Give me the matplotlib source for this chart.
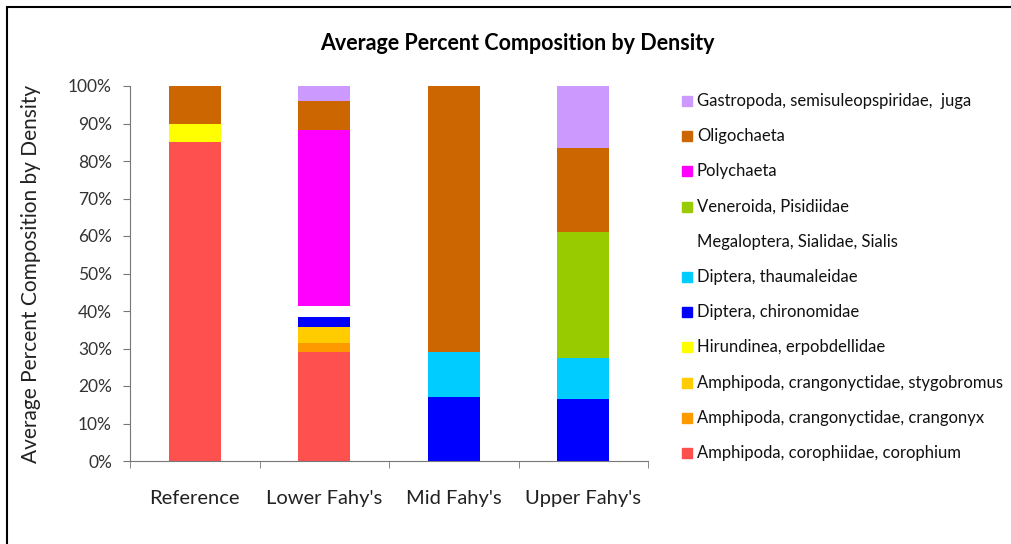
import numpy as np
import matplotlib
matplotlib.use("Agg")
from matplotlib import pyplot as plt
from matplotlib.patches import Rectangle

plt.rcParams['font.family'] = ['Lato', 'DejaVu Sans']

sites = ["Reference", "Lower Fahy's", "Mid Fahy's", "Upper Fahy's"]

# stacked from bottom to top, percent of density
taxa = [
    "Amphipoda, corophiidae, corophium",
    "Amphipoda, crangonyctidae, crangonyx",
    "Amphipoda, crangonyctidae, stygobromus",
    "Hirundinea, erpobdellidae",
    "Diptera, chironomidae",
    "Diptera, thaumaleidae",
    "Megaloptera, Sialidae, Sialis",
    "Veneroida, Pisidiidae",
    "Polychaeta",
    "Oligochaeta",
    "Gastropoda, semisuleopspiridae,  juga",
]
colors = ['#ff5050', '#ff9900', '#ffcc00', '#ffff00', '#0000ff', '#00ccff',
          '#ffffff', '#99cc00', '#ff00ff', '#cc6600', '#cc99ff']

corophium   = [85.0, 29.0, 0.0, 0.0]
crangonyx   = [0.0, 2.6, 0.0, 0.0]
stygobromus = [0.0, 4.2, 0.0, 0.0]
hirundinea  = [5.0, 0.0, 0.0, 0.0]
chironomid  = [0.0, 2.7, 17.1, 16.5]
thaumaleid  = [0.0, 0.0, 12.0, 11.1]
megaloptera = [0.0, 2.8, 0.0, 0.0]
veneroida   = [0.0, 0.0, 0.0, 33.6]
polychaeta  = [0.0, 47.1, 0.0, 0.0]
oligochaeta = [10.0, 7.7, 70.9, 22.2]
gastropoda  = [0.0, 3.9, 0.0, 16.6]

series = [corophium, crangonyx, stygobromus, hirundinea, chironomid, thaumaleid,
          megaloptera, veneroida, polychaeta, oligochaeta, gastropoda]

fig = plt.figure(figsize=(10.11, 5.44), dpi=100)
ax = fig.add_axes([130/1011, 1-461/544, (648-130)/1011, (461-86)/544])

x = np.arange(len(sites))
bottom = np.zeros(len(sites))
for vals, c, name in zip(series, colors, taxa):
    ax.bar(x, vals, 0.4, bottom=bottom, color=c, label=name)
    bottom += np.array(vals)

ax.set_xlim(-0.5, 3.5)
ax.set_ylim(0, 100)
ax.set_yticks(np.arange(0, 101, 10))
ax.set_yticklabels([f"{v}%" for v in range(0, 101, 10)], fontsize=12.5, color='#333333')
ax.set_xticks(x)
ax.set_xticklabels(sites, fontsize=14.5, color='#222222')
ax.tick_params(axis='x', length=0, pad=21)
ax.set_xticks(np.arange(-0.5, 4, 1), minor=True)
ax.tick_params(axis='x', which='minor', length=5, direction='out', color='#777777')
ax.tick_params(axis='y', length=5, direction='out', color='#777777', pad=8)
for s in ['top', 'right']:
    ax.spines[s].set_visible(False)
for s in ['left', 'bottom']:
    ax.spines[s].set_color('#777777')
ax.set_ylabel("Average Percent Composition by Density", fontsize=15, color='#222222')
ax.yaxis.set_label_coords(-89/518, 0.5)

fig.text(0.512, 1-44/544, "Average Percent Composition by Density", ha='center', va='center',
         fontsize=15.5, fontweight='bold')

# legend drawn top to bottom in reverse stacking order
ytop, step = 101, 35.2
for i, (name, c) in enumerate(zip(taxa[::-1], colors[::-1])):
    yy = 1 - (ytop + i * step) / 544
    fig.patches.append(Rectangle((682/1011, yy - 5/544), 10/1011, 10/544,
                                 transform=fig.transFigure, color=c, zorder=3))
    fig.text(697/1011, yy, name, va='center', fontsize=12, color='#111111')

# frame, only left and top edges are in view
fig.patches.append(Rectangle((7/1011, -0.1), 1.2, 1 - 7/544 + 0.1, transform=fig.transFigure,
                             fill=False, edgecolor='black', linewidth=1.5, zorder=5))

fig.savefig("out.png", dpi=100)
